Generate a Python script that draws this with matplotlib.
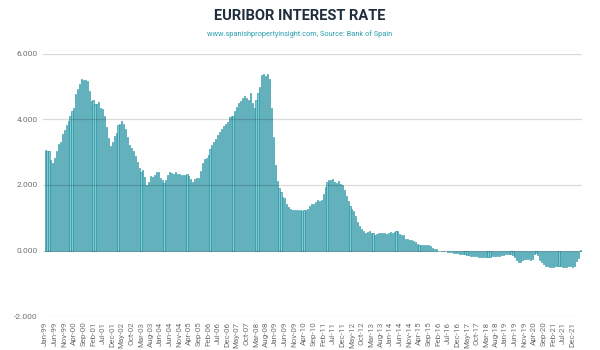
import matplotlib.pyplot as plt
import pandas as pd

# 12-month Euribor, monthly average (%), Jan-1999 .. Apr-2022
rates = [
    3.062, 3.033, 3.048, 2.749, 2.684, 2.835, 3.024, 3.249, 3.299, 3.541, 3.663, 3.827,
    3.949, 4.108, 4.253, 4.346, 4.775, 4.941, 5.093, 5.236, 5.215, 5.206, 5.180, 4.877,
    4.574, 4.591, 4.471, 4.468, 4.528, 4.347, 4.322, 4.097, 3.772, 3.433, 3.186, 3.301,
    3.481, 3.594, 3.822, 3.859, 3.955, 3.875, 3.720, 3.468, 3.226, 3.119, 3.025, 2.872,
    2.705, 2.504, 2.411, 2.447, 2.252, 2.014, 2.076, 2.279, 2.258, 2.303, 2.410, 2.381,
    2.223, 2.163, 2.063, 2.158, 2.300, 2.401, 2.355, 2.322, 2.384, 2.324, 2.334, 2.302,
    2.312, 2.310, 2.335, 2.265, 2.193, 2.103, 2.168, 2.223, 2.220, 2.414, 2.684, 2.783,
    2.833, 2.914, 3.105, 3.221, 3.308, 3.401, 3.539, 3.615, 3.715, 3.799, 3.864, 3.921,
    4.064, 4.094, 4.106, 4.253, 4.373, 4.505, 4.564, 4.666, 4.725, 4.647, 4.607, 4.793,
    4.498, 4.349, 4.590, 4.820, 4.994, 5.361, 5.393, 5.323, 5.384, 5.248, 4.350, 3.452,
    2.622, 2.135, 1.909, 1.771, 1.644, 1.610, 1.412, 1.334, 1.261, 1.243, 1.231, 1.242,
    1.232, 1.225, 1.215, 1.225, 1.249, 1.281, 1.373, 1.421, 1.420, 1.495, 1.541, 1.526,
    1.550, 1.714, 1.924, 2.086, 2.147, 2.144, 2.183, 2.097, 2.067, 2.110, 2.044, 2.004,
    1.837, 1.678, 1.499, 1.368, 1.266, 1.219, 1.061, 0.877, 0.740, 0.650, 0.588, 0.549,
    0.575, 0.594, 0.545, 0.528, 0.484, 0.507, 0.525, 0.542, 0.543, 0.541, 0.506, 0.543,
    0.562, 0.549, 0.577, 0.604, 0.592, 0.513, 0.488, 0.469, 0.362, 0.338, 0.335, 0.329,
    0.298, 0.255, 0.212, 0.180, 0.165, 0.163, 0.167, 0.161, 0.154, 0.128, 0.079, 0.059,
    0.042, -0.008, -0.012, -0.010, -0.013, -0.028, -0.056, -0.048, -0.057, -0.069, -0.074, -0.080,
    -0.095, -0.106, -0.110, -0.119, -0.127, -0.149, -0.154, -0.156, -0.168, -0.180, -0.189, -0.190,
    -0.189, -0.191, -0.191, -0.190, -0.188, -0.181, -0.180, -0.169, -0.166, -0.154, -0.147, -0.129,
    -0.116, -0.108, -0.109, -0.112, -0.134, -0.190, -0.283, -0.356, -0.339, -0.304, -0.272, -0.261,
    -0.253, -0.288, -0.266, -0.108, -0.081, -0.147, -0.279, -0.359, -0.415, -0.466, -0.481, -0.497,
    -0.505, -0.501, -0.487, -0.484, -0.481, -0.484, -0.491, -0.498, -0.492, -0.477, -0.487, -0.502,
    -0.477, -0.335, -0.237, 0.013,
]
months = pd.date_range("1999-01-01", periods=len(rates), freq="MS").strftime("%b-%y").tolist()
y_ticks = [-2, 0, 2, 4, 6]

title = "EURIBOR INTEREST RATE"
subtitle = "www.spanishpropertyinsight.com, Source: Bank of Spain"

plt.rcParams['font.family'] = ['Roboto', 'DejaVu Sans']

fig = plt.figure(figsize=(6, 3.5), dpi=100)
ax = fig.add_axes([0.072, 0.097, 0.898, 0.749])

x = list(range(len(rates)))
ax.bar(x, rates, width=0.58, color='#82cad2', edgecolor='#17899b', linewidth=0.4, zorder=2)

ax.set_ylim(-2, 6)
ax.set_xlim(-1, len(rates))
ax.set_yticks(y_ticks)
ax.set_yticklabels([f"{v:.3f}" for v in y_ticks], fontsize=6, color='#707070')

tick_pos = x[::5]
ax.set_xticks(tick_pos)
ax.set_xticklabels([months[i] for i in tick_pos], rotation=90, fontsize=5.8, color='#707070')
ax.tick_params(length=0, pad=4)

for v in y_ticks:
    ax.axhline(v, color='black', alpha=0.15, linewidth=0.9, zorder=3)

for s in ax.spines.values():
    s.set_visible(False)

fig.text(0.5, 0.954, title, ha='center', va='center', fontsize=10.5,
         fontweight='bold', color='#1f2d3d')
fig.text(0.5, 0.902, subtitle, ha='center', va='center', fontsize=5.3, color='#2a9fb0')

fig.savefig("out.png", dpi=100)
